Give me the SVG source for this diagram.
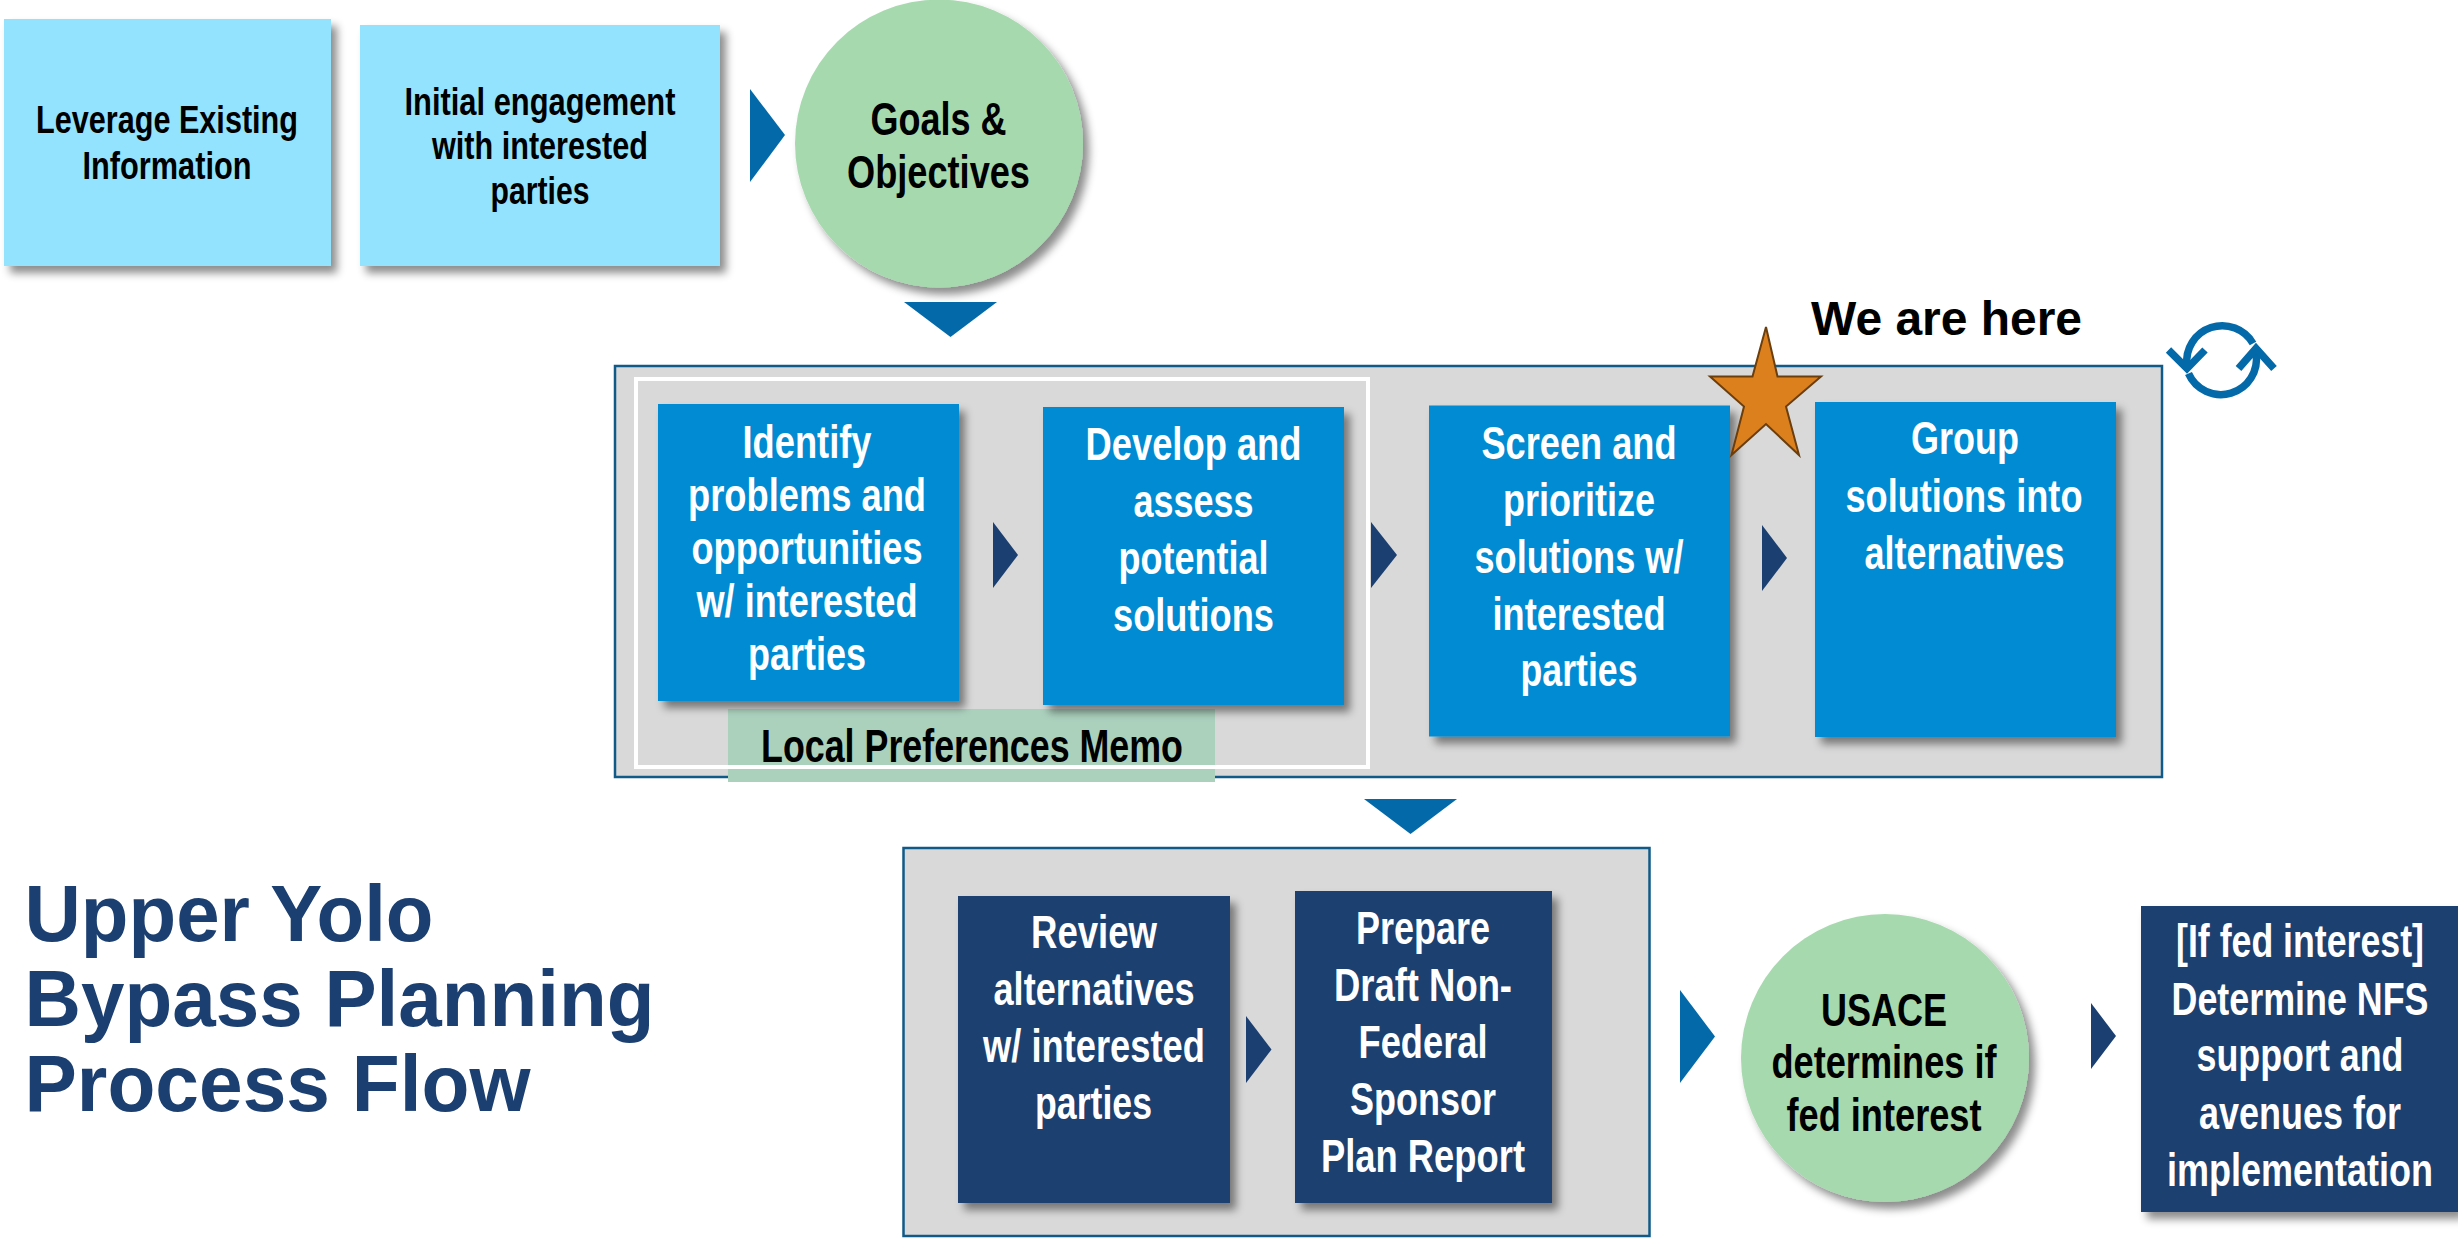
<svg xmlns="http://www.w3.org/2000/svg" width="2458" height="1239" viewBox="0 0 2458 1239">
<style>
text{font-family:"Liberation Sans",Arial,sans-serif;font-weight:700;text-anchor:middle}
.k{fill:#000}.w{fill:#fff}
.s{font-size:38px}.m{font-size:46px}
.title{font-size:79px;fill:#1b3f70;text-anchor:start}
.lb{fill:#93e3ff}.gr{fill:#a6d9ae}.bl{fill:#008bd2}.nv{fill:#1b3f70}
.cont{fill:#d9d9d9;stroke:#0f5a88;stroke-width:2.5}
.a1{fill:#0369a8}.a2{fill:#1b3f70}
</style>
<defs>
<filter id="sh" x="-10%" y="-10%" width="125%" height="125%"><feDropShadow dx="6" dy="7" stdDeviation="4" flood-color="#000" flood-opacity="0.45"/></filter>
</defs>
<rect width="2458" height="1239" fill="#fff"/>
<g id="container-screening"><rect class="cont" x="615" y="366" width="1547" height="411"/></g>
<g id="container-review"><rect class="cont" x="903.5" y="848" width="746" height="388"/></g>
<g id="memo-band"><rect x="728" y="709" width="487" height="73" fill="#abd1bd"/></g>
<g id="memo-outline"><rect x="636" y="379" width="732" height="388" fill="none" stroke="#fff" stroke-width="4"/></g>
<g id="memo-label"><text class="k m" x="972" y="762" textLength="422" lengthAdjust="spacingAndGlyphs">Local Preferences Memo</text></g>

<g id="connectors">
<polygon class="a1" points="750,89 785,135 750,182"/>
<polygon class="a1" points="904,302 997,302 950.5,337"/>
<polygon class="a2" points="993,522 1018,555 993,588"/>
<polygon class="a2" points="1371,522 1397,555 1371,588"/>
<polygon class="a2" points="1762,525 1787,558 1762,591"/>
<polygon class="a1" points="1364,799 1457,799 1410.5,834"/>
<polygon class="a2" points="1246,1016 1271.500,1049.500 1246,1083"/>
<polygon class="a1" points="1680,990 1715,1036.500 1680,1083"/>
<polygon class="a2" points="2091,1003 2116,1036 2091,1069"/>
</g>

<g id="node-leverage">
<rect class="lb" filter="url(#sh)" x="4" y="19" width="327" height="247"/>
<text class="k s" x="167" y="133" textLength="262" lengthAdjust="spacingAndGlyphs">Leverage Existing</text>
<text class="k s" x="167" y="178.500" textLength="169" lengthAdjust="spacingAndGlyphs">Information</text>
</g>
<g id="node-engagement">
<rect class="lb" filter="url(#sh)" x="360" y="25" width="360" height="241"/>
<text class="k s" x="540" y="114.500" textLength="271" lengthAdjust="spacingAndGlyphs">Initial engagement</text>
<text class="k s" x="540" y="159" textLength="216" lengthAdjust="spacingAndGlyphs">with interested</text>
<text class="k s" x="540" y="203.500" textLength="99" lengthAdjust="spacingAndGlyphs">parties</text>
</g>
<g id="node-goals">
<circle class="gr" filter="url(#sh)" cx="939" cy="143.500" r="144"/>
<text class="k m" x="938.500" y="135" textLength="136" lengthAdjust="spacingAndGlyphs">Goals &amp;</text>
<text class="k m" x="938.500" y="188" textLength="183" lengthAdjust="spacingAndGlyphs">Objectives</text>
</g>

<g id="node-identify">
<rect class="bl" filter="url(#sh)" x="658" y="404" width="301" height="297"/>
<text class="w m" x="807" y="458" textLength="129" lengthAdjust="spacingAndGlyphs">Identify</text>
<text class="w m" x="807" y="511" textLength="238" lengthAdjust="spacingAndGlyphs">problems and</text>
<text class="w m" x="807" y="564" textLength="231" lengthAdjust="spacingAndGlyphs">opportunities</text>
<text class="w m" x="807" y="617" textLength="221" lengthAdjust="spacingAndGlyphs">w/ interested</text>
<text class="w m" x="807" y="670" textLength="118" lengthAdjust="spacingAndGlyphs">parties</text>
</g>
<g id="node-develop">
<rect class="bl" filter="url(#sh)" x="1043" y="407" width="301" height="298"/>
<text class="w m" x="1193.500" y="460" textLength="216" lengthAdjust="spacingAndGlyphs">Develop and</text>
<text class="w m" x="1193.500" y="517" textLength="120" lengthAdjust="spacingAndGlyphs">assess</text>
<text class="w m" x="1193.500" y="574" textLength="150" lengthAdjust="spacingAndGlyphs">potential</text>
<text class="w m" x="1193.500" y="631" textLength="161" lengthAdjust="spacingAndGlyphs">solutions</text>
</g>
<g id="node-screen">
<rect class="bl" filter="url(#sh)" x="1429" y="405.500" width="301" height="331"/>
<text class="w m" x="1579" y="459" textLength="195" lengthAdjust="spacingAndGlyphs">Screen and</text>
<text class="w m" x="1579" y="516" textLength="152" lengthAdjust="spacingAndGlyphs">prioritize</text>
<text class="w m" x="1579" y="572.500" textLength="209" lengthAdjust="spacingAndGlyphs">solutions w/</text>
<text class="w m" x="1579" y="630" textLength="173" lengthAdjust="spacingAndGlyphs">interested</text>
<text class="w m" x="1579" y="686" textLength="117" lengthAdjust="spacingAndGlyphs">parties</text>
</g>
<g id="node-group">
<rect class="bl" filter="url(#sh)" x="1815" y="402" width="301" height="335"/>
<text class="w m" x="1965" y="454" textLength="108" lengthAdjust="spacingAndGlyphs">Group</text>
<text class="w m" x="1964" y="512" textLength="237" lengthAdjust="spacingAndGlyphs">solutions into</text>
<text class="w m" x="1964.500" y="569" textLength="200" lengthAdjust="spacingAndGlyphs">alternatives</text>
</g>

<g id="marker-star">
<polygon points="1766,327 1777.500,376.500 1821,376.500 1786,406.500 1799,455 1766,424 1731.500,455 1744,406.500 1710,376.500 1752.500,376.500" fill="#dc801e" stroke="#6b3e0c" stroke-width="2"/>
<text class="k" x="1946.500" y="334.500" font-size="48" textLength="271" lengthAdjust="spacingAndGlyphs">We are here</text>
</g>
<g id="cycle-icon" fill="none" stroke="#0369a8" stroke-width="7.500" transform="translate(0 -1.500)">
<path d="M2187 367A35.500 35.500 0 0 1 2253 345"/>
<path d="M2188.500 375A35.500 35.500 0 0 0 2256 355"/>
<path d="M2168.500 351.500L2187 370L2205 351.500"/>
<path d="M2238.500 370L2256 350L2274 370"/>
</g>

<g id="node-review">
<rect class="nv" filter="url(#sh)" x="958" y="896" width="272" height="307"/>
<text class="w m" x="1094" y="948" textLength="126" lengthAdjust="spacingAndGlyphs">Review</text>
<text class="w m" x="1094" y="1005" textLength="201" lengthAdjust="spacingAndGlyphs">alternatives</text>
<text class="w m" x="1094" y="1062" textLength="222" lengthAdjust="spacingAndGlyphs">w/ interested</text>
<text class="w m" x="1093.500" y="1119" textLength="117" lengthAdjust="spacingAndGlyphs">parties</text>
</g>
<g id="node-prepare">
<rect class="nv" filter="url(#sh)" x="1295" y="891" width="257" height="312"/>
<text class="w m" x="1423" y="944" textLength="134" lengthAdjust="spacingAndGlyphs">Prepare</text>
<text class="w m" x="1423" y="1001" textLength="178" lengthAdjust="spacingAndGlyphs">Draft Non-</text>
<text class="w m" x="1423" y="1058" textLength="129" lengthAdjust="spacingAndGlyphs">Federal</text>
<text class="w m" x="1423" y="1115" textLength="146" lengthAdjust="spacingAndGlyphs">Sponsor</text>
<text class="w m" x="1423" y="1172" textLength="204" lengthAdjust="spacingAndGlyphs">Plan Report</text>
</g>
<g id="node-usace">
<circle class="gr" filter="url(#sh)" cx="1885" cy="1058" r="144"/>
<text class="k m" x="1884" y="1025.500" textLength="126" lengthAdjust="spacingAndGlyphs">USACE</text>
<text class="k m" x="1884" y="1078" textLength="225" lengthAdjust="spacingAndGlyphs">determines if</text>
<text class="k m" x="1884" y="1131" textLength="195" lengthAdjust="spacingAndGlyphs">fed interest</text>
</g>
<g id="node-implementation">
<rect class="nv" filter="url(#sh)" x="2141" y="906" width="317" height="306"/>
<text class="w m" x="2300" y="957" textLength="248" lengthAdjust="spacingAndGlyphs">[If fed interest]</text>
<text class="w m" x="2300" y="1015" textLength="257" lengthAdjust="spacingAndGlyphs">Determine NFS</text>
<text class="w m" x="2300" y="1071" textLength="207" lengthAdjust="spacingAndGlyphs">support and</text>
<text class="w m" x="2300" y="1129" textLength="202" lengthAdjust="spacingAndGlyphs">avenues for</text>
<text class="w m" x="2300" y="1186" textLength="266" lengthAdjust="spacingAndGlyphs">implementation</text>
</g>

<g id="title">
<text class="title" x="24.500" y="941" textLength="409" lengthAdjust="spacingAndGlyphs">Upper Yolo</text>
<text class="title" x="24.500" y="1026" textLength="630" lengthAdjust="spacingAndGlyphs">Bypass Planning</text>
<text class="title" x="24.500" y="1111" textLength="506" lengthAdjust="spacingAndGlyphs">Process Flow</text>
</g>
</svg>
